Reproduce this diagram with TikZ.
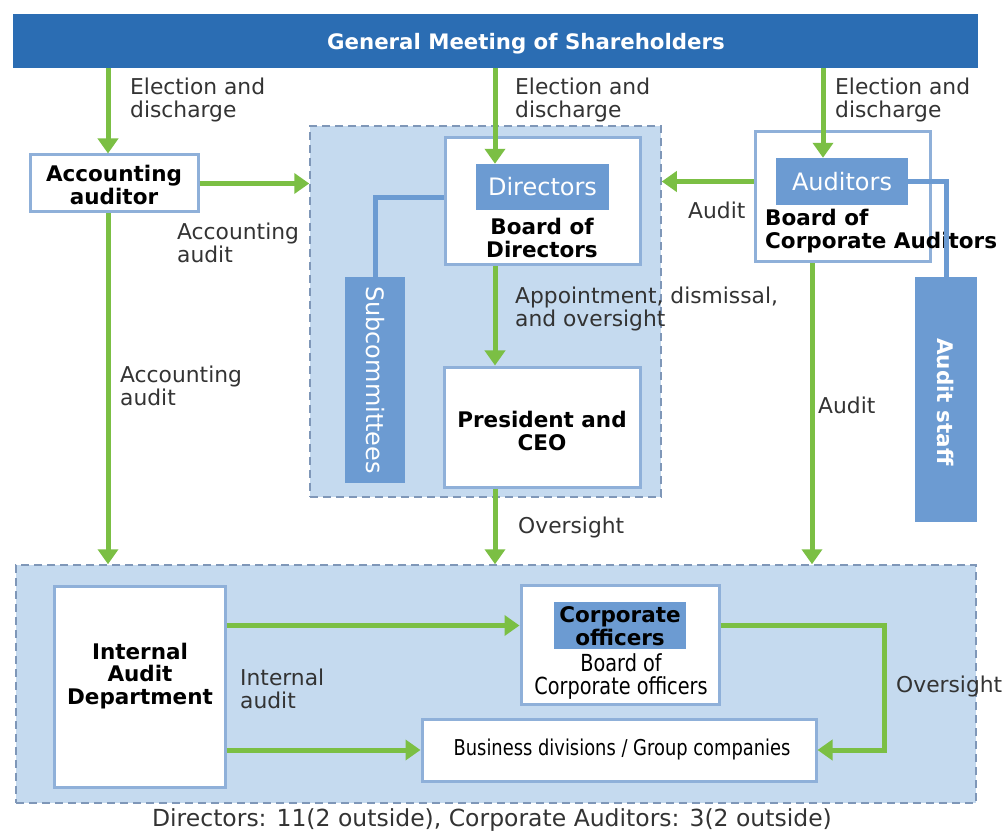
\documentclass[tikz,border=0pt]{standalone}
\usepackage{fontspec}
\setmainfont{DejaVu Sans}
\newfontfamily\narrowfont[FakeStretch=0.82]{DejaVu Sans}
\usetikzlibrary{arrows.meta}
\definecolor{barblue}{HTML}{2B6DB3}
\definecolor{lightfill}{HTML}{C5DAEF}
\definecolor{midblue}{HTML}{6C9BD2}
\definecolor{boxline}{HTML}{8FB0D9}
\definecolor{dashline}{HTML}{7F97B8}
\definecolor{arrgreen}{HTML}{7BBF44}
\definecolor{labelgray}{HTML}{333333}
\tikzset{
  region/.style={draw=dashline, fill=lightfill, dash pattern=on 8pt off 5pt, line width=1.5pt, inner sep=0},
  whitebox/.style={draw=boxline, fill=white, line width=3pt, inner sep=0},
  subbox/.style={fill=midblue, text=white, inner sep=0, font=\fontsize{24}{26}\selectfont},
  boxtext/.style={align=center, inner sep=0, font=\bfseries\fontsize{21.5}{22.5}\selectfont},
  flow/.style={draw=arrgreen, line width=5pt, -{Triangle[width=20pt,length=15pt]}},
  link/.style={draw=midblue, line width=5pt},
  lbl/.style={text=labelgray, align=left, anchor=west, inner sep=0, font=\fontsize{21.8}{22.5}\selectfont}
}
\begin{document}
\begin{tikzpicture}[x=1pt, y=-1pt]
\useasboundingbox (0,0) rectangle (1005,837);
% column coordinates
\coordinate (cA) at (108,0);
\coordinate (cB) at (495,0);
\coordinate (cC) at (812,0);
\coordinate (cD) at (823,0);
\coordinate (cE) at (884,0);
\coordinate (rB) at (0,198);

% regions
\node[region, minimum width=351pt, minimum height=371pt] (board) at (485.5,311.5) {};
\node[region, minimum width=960pt, minimum height=238pt] (lower) at (496,684) {};

% top bar
\node[fill=barblue, minimum width=965pt, minimum height=54pt, inner sep=0] (bar) at (495.5,41) {};
\node[text=white, inner sep=0, font=\bfseries\fontsize{21.3}{23}\selectfont] (barlabel) at (526,44) {General Meeting of Shareholders};

% boxes
\node[whitebox, minimum width=168pt, minimum height=57pt] (acc) at (114,183.5) {};
\node[boxtext] (acctext) at (114,185) {Accounting\\auditor};

\node[whitebox, minimum width=195pt, minimum height=127pt] (bod) at (542.5,201.5) {};
\node[subbox, minimum width=133pt, minimum height=46pt] (dir) at (542.5,187) {Directors};
\node[boxtext] (bodtext) at (542,238) {Board of\\Directors};

\node[fill=midblue, minimum width=60pt, minimum height=206pt, inner sep=0] (subc) at (375,380) {};
\node[text=white, rotate=-90, inner sep=0, font=\fontsize{24}{26}\selectfont] (subctext) at (375,380) {Subcommittees};

\node[whitebox, minimum width=196pt, minimum height=120pt] (pres) at (542,427) {};
\node[boxtext] (prestext) at (542,431) {President and\\CEO};

\node[whitebox, minimum width=175pt, minimum height=130pt] (bca) at (842.5,197) {};
\node[subbox, minimum width=132pt, minimum height=47pt] (aud) at (842,181.5) {Auditors};
\node[boxtext, align=left, anchor=west] (bcatext) at (765,231) {Board of\\Corporate Auditors};

\node[fill=midblue, minimum width=62pt, minimum height=245pt, inner sep=0] (staff) at (946,399.5) {};
\node[text=white, rotate=-90, inner sep=0, font=\bfseries\fontsize{21.5}{23}\selectfont] (stafftext) at (946,402) {Audit staff};

\node[whitebox, minimum width=171pt, minimum height=201pt] (iad) at (139.5,686.5) {};
\node[boxtext] (iadtext) at (140,676) {Internal\\Audit\\Department};

\node[whitebox, minimum width=198pt, minimum height=119pt] (co) at (620,644.5) {};
\node[fill=midblue, minimum width=132pt, minimum height=47pt, inner sep=0] (cosub) at (620,625.5) {};
\node[boxtext] (cosubtext) at (620,626) {Corporate\\officers};
\node[align=center, inner sep=0, font=\narrowfont\fontsize{23.5}{23}\selectfont] (cotext) at (621,677) {Board of\\Corporate officers};

\node[whitebox, minimum width=394pt, minimum height=62pt] (biz) at (619,750) {};
\node[inner sep=0, font=\narrowfont\fontsize{21.8}{23}\selectfont] (biztext) at (622,749) {Business divisions / Group companies};

\node[inner sep=0, text=labelgray, font=\fontsize{23.5}{25}\selectfont] (foot) at (492,820) {Directors: 11(2 outside), Corporate Auditors: 3(2 outside)};

% connectors
\draw[flow] (bar.south -| cA) -- (acc.north -| cA);
\draw[flow] (bar.south -| cB) -- (dir.north -| cB);
\draw[flow] (bar.south -| cD) -- (aud.north -| cD);
\draw[flow] (acc.east) -- (acc.east -| board.west);
\draw[flow] (aud -| bca.west) -- (aud -| board.east);
\draw[flow] (bod.south -| cB) -- (pres.north -| cB);
\draw[flow] (pres.south -| cB) -- (lower.north -| cB);
\draw[flow] (acc.south -| cA) -- (lower.north -| cA);
\draw[flow] (bca.south -| cC) -- (lower.north -| cC);
\draw[flow] (iad.east |- cosub) -- (co.west |- cosub);
\draw[flow] (iad.east |- biz) -- (biz.west);
\draw[flow] (co.east |- cosub) -| (cE |- biz) -- (biz.east);

\draw[link] (bod.west |- rB) -| (subc.north);
\draw[link] (aud.east) -| (staff.north);

% labels
\node[lbl] (l1) at (130,100) {Election and\\discharge};
\node[lbl] (l2) at (515,100) {Election and\\discharge};
\node[lbl] (l3) at (835,100) {Election and\\discharge};
\node[lbl] (l4) at (177,243) {Accounting\\audit};
\node[lbl] (l5) at (688,210) {Audit};
\node[lbl] (l6) at (515,309) {Appointment, dismissal,\\and oversight};
\node[lbl] (l7) at (120,386) {Accounting\\audit};
\node[lbl] (l8) at (818,405) {Audit};
\node[lbl] (l9) at (518,527) {Oversight};
\node[lbl] (l10) at (240,689) {Internal\\audit};
\node[lbl] (l11) at (896,686) {Oversight};
\end{tikzpicture}
\end{document}
